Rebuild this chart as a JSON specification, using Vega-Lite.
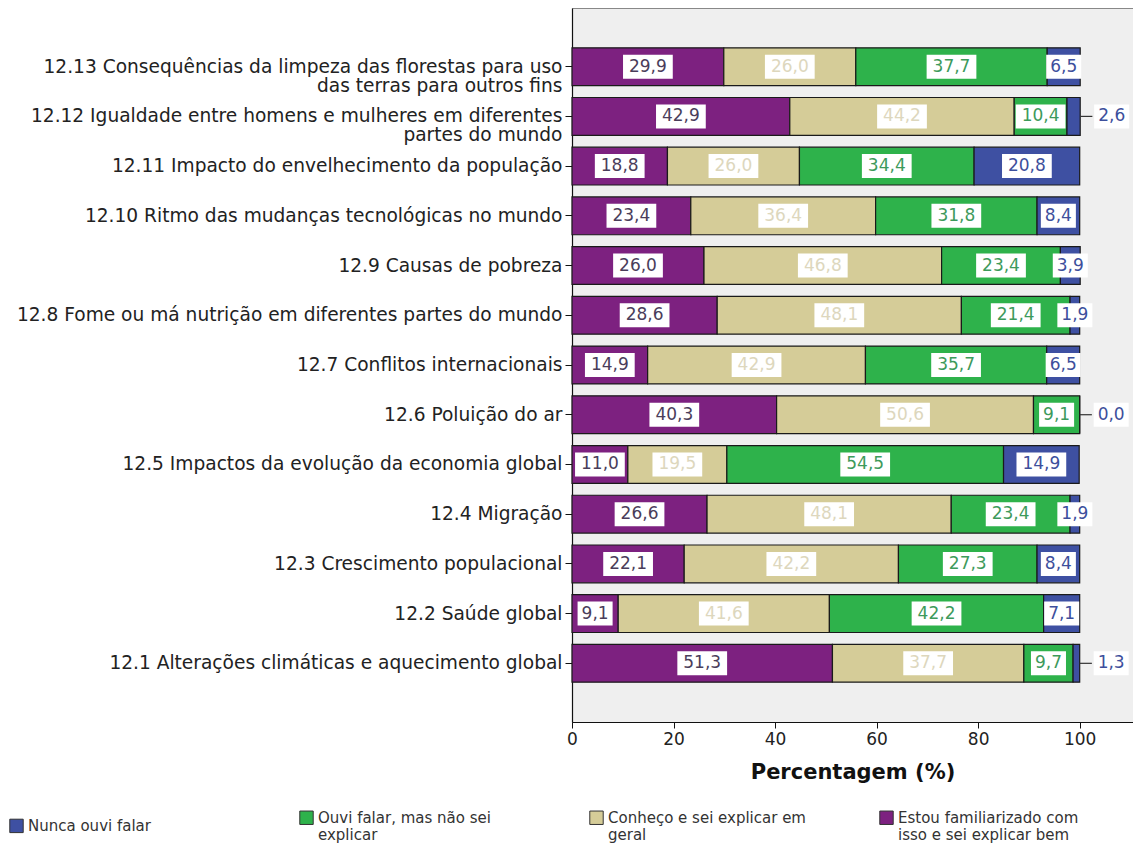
{
  "$schema": "https://vega.github.io/schema/vega-lite/v6.json",
  "autosize": {"type": "none"},
  "padding": {"left": 572, "top": 8, "right": 0, "bottom": 129},
  "width": 561,
  "height": 714,
  "background": "#ffffff",
  "config": {
    "font": "DejaVu Sans",
    "view": {"fill": "#efefef", "stroke": "#888888", "strokeWidth": 1}
  },
  "data": {
    "values": [
      {"cat": "12.13 Consequências da limpeza das florestas para uso|das terras para outros fins", "resp": "Estou familiarizado com isso e sei explicar bem", "v": 29.9},
      {"cat": "12.13 Consequências da limpeza das florestas para uso|das terras para outros fins", "resp": "Conheço e sei explicar em geral", "v": 26.0},
      {"cat": "12.13 Consequências da limpeza das florestas para uso|das terras para outros fins", "resp": "Ouvi falar, mas não sei explicar", "v": 37.7},
      {"cat": "12.13 Consequências da limpeza das florestas para uso|das terras para outros fins", "resp": "Nunca ouvi falar", "v": 6.5},
      {"cat": "12.12 Igualdade entre homens e mulheres em diferentes|partes do mundo", "resp": "Estou familiarizado com isso e sei explicar bem", "v": 42.9},
      {"cat": "12.12 Igualdade entre homens e mulheres em diferentes|partes do mundo", "resp": "Conheço e sei explicar em geral", "v": 44.2},
      {"cat": "12.12 Igualdade entre homens e mulheres em diferentes|partes do mundo", "resp": "Ouvi falar, mas não sei explicar", "v": 10.4},
      {"cat": "12.12 Igualdade entre homens e mulheres em diferentes|partes do mundo", "resp": "Nunca ouvi falar", "v": 2.6},
      {"cat": "12.11 Impacto do envelhecimento da população", "resp": "Estou familiarizado com isso e sei explicar bem", "v": 18.8},
      {"cat": "12.11 Impacto do envelhecimento da população", "resp": "Conheço e sei explicar em geral", "v": 26.0},
      {"cat": "12.11 Impacto do envelhecimento da população", "resp": "Ouvi falar, mas não sei explicar", "v": 34.4},
      {"cat": "12.11 Impacto do envelhecimento da população", "resp": "Nunca ouvi falar", "v": 20.8},
      {"cat": "12.10 Ritmo das mudanças tecnológicas no mundo", "resp": "Estou familiarizado com isso e sei explicar bem", "v": 23.4},
      {"cat": "12.10 Ritmo das mudanças tecnológicas no mundo", "resp": "Conheço e sei explicar em geral", "v": 36.4},
      {"cat": "12.10 Ritmo das mudanças tecnológicas no mundo", "resp": "Ouvi falar, mas não sei explicar", "v": 31.8},
      {"cat": "12.10 Ritmo das mudanças tecnológicas no mundo", "resp": "Nunca ouvi falar", "v": 8.4},
      {"cat": "12.9 Causas de pobreza", "resp": "Estou familiarizado com isso e sei explicar bem", "v": 26.0},
      {"cat": "12.9 Causas de pobreza", "resp": "Conheço e sei explicar em geral", "v": 46.8},
      {"cat": "12.9 Causas de pobreza", "resp": "Ouvi falar, mas não sei explicar", "v": 23.4},
      {"cat": "12.9 Causas de pobreza", "resp": "Nunca ouvi falar", "v": 3.9},
      {"cat": "12.8 Fome ou má nutrição em diferentes partes do mundo", "resp": "Estou familiarizado com isso e sei explicar bem", "v": 28.6},
      {"cat": "12.8 Fome ou má nutrição em diferentes partes do mundo", "resp": "Conheço e sei explicar em geral", "v": 48.1},
      {"cat": "12.8 Fome ou má nutrição em diferentes partes do mundo", "resp": "Ouvi falar, mas não sei explicar", "v": 21.4},
      {"cat": "12.8 Fome ou má nutrição em diferentes partes do mundo", "resp": "Nunca ouvi falar", "v": 1.9},
      {"cat": "12.7 Conflitos internacionais", "resp": "Estou familiarizado com isso e sei explicar bem", "v": 14.9},
      {"cat": "12.7 Conflitos internacionais", "resp": "Conheço e sei explicar em geral", "v": 42.9},
      {"cat": "12.7 Conflitos internacionais", "resp": "Ouvi falar, mas não sei explicar", "v": 35.7},
      {"cat": "12.7 Conflitos internacionais", "resp": "Nunca ouvi falar", "v": 6.5},
      {"cat": "12.6 Poluição do ar", "resp": "Estou familiarizado com isso e sei explicar bem", "v": 40.3},
      {"cat": "12.6 Poluição do ar", "resp": "Conheço e sei explicar em geral", "v": 50.6},
      {"cat": "12.6 Poluição do ar", "resp": "Ouvi falar, mas não sei explicar", "v": 9.1},
      {"cat": "12.6 Poluição do ar", "resp": "Nunca ouvi falar", "v": 0.0},
      {"cat": "12.5 Impactos da evolução da economia global", "resp": "Estou familiarizado com isso e sei explicar bem", "v": 11.0},
      {"cat": "12.5 Impactos da evolução da economia global", "resp": "Conheço e sei explicar em geral", "v": 19.5},
      {"cat": "12.5 Impactos da evolução da economia global", "resp": "Ouvi falar, mas não sei explicar", "v": 54.5},
      {"cat": "12.5 Impactos da evolução da economia global", "resp": "Nunca ouvi falar", "v": 14.9},
      {"cat": "12.4 Migração", "resp": "Estou familiarizado com isso e sei explicar bem", "v": 26.6},
      {"cat": "12.4 Migração", "resp": "Conheço e sei explicar em geral", "v": 48.1},
      {"cat": "12.4 Migração", "resp": "Ouvi falar, mas não sei explicar", "v": 23.4},
      {"cat": "12.4 Migração", "resp": "Nunca ouvi falar", "v": 1.9},
      {"cat": "12.3 Crescimento populacional", "resp": "Estou familiarizado com isso e sei explicar bem", "v": 22.1},
      {"cat": "12.3 Crescimento populacional", "resp": "Conheço e sei explicar em geral", "v": 42.2},
      {"cat": "12.3 Crescimento populacional", "resp": "Ouvi falar, mas não sei explicar", "v": 27.3},
      {"cat": "12.3 Crescimento populacional", "resp": "Nunca ouvi falar", "v": 8.4},
      {"cat": "12.2 Saúde global", "resp": "Estou familiarizado com isso e sei explicar bem", "v": 9.1},
      {"cat": "12.2 Saúde global", "resp": "Conheço e sei explicar em geral", "v": 41.6},
      {"cat": "12.2 Saúde global", "resp": "Ouvi falar, mas não sei explicar", "v": 42.2},
      {"cat": "12.2 Saúde global", "resp": "Nunca ouvi falar", "v": 7.1},
      {"cat": "12.1 Alterações climáticas e aquecimento global", "resp": "Estou familiarizado com isso e sei explicar bem", "v": 51.3},
      {"cat": "12.1 Alterações climáticas e aquecimento global", "resp": "Conheço e sei explicar em geral", "v": 37.7},
      {"cat": "12.1 Alterações climáticas e aquecimento global", "resp": "Ouvi falar, mas não sei explicar", "v": 9.7},
      {"cat": "12.1 Alterações climáticas e aquecimento global", "resp": "Nunca ouvi falar", "v": 1.3}
    ]
  },
  "transform": [
    {"calculate": "indexof(['Estou familiarizado com isso e sei explicar bem','Conheço e sei explicar em geral','Ouvi falar, mas não sei explicar','Nunca ouvi falar'], datum.resp)", "as": "o"},
    {"stack": "v", "groupby": ["cat"], "sort": [{"field": "o", "order": "ascending"}], "as": ["x0", "x1"]},
    {"calculate": "(datum.x0 + datum.x1) / 2", "as": "mid"},
    {"calculate": "replace(format(datum.v, '.1f'), '.', ',')", "as": "lab"},
    {"calculate": "length(datum.lab) > 3 ? 4.9 : 3.45", "as": "hw"},
    {"calculate": "datum.mid + datum.hw", "as": "right"},
    {"calculate": "datum.mid - datum.hw", "as": "left"},
    {"window": [{"op": "lag", "field": "right", "as": "prevRight"}], "groupby": ["cat"], "sort": [{"field": "o", "order": "ascending"}]},
    {"calculate": "datum.o == 3 && datum.prevRight != null && datum.left < datum.prevRight", "as": "out"},
    {"calculate": "datum.out ? datum.x1 + 6.2 : datum.mid", "as": "lx"},
    {"calculate": "datum.lx - datum.hw", "as": "bl"},
    {"calculate": "datum.lx + datum.hw", "as": "br"},
    {"calculate": "datum.x1 + 2.4", "as": "lend"}
  ],
  "encoding": {
    "y": {
      "field": "cat",
      "type": "nominal",
      "sort": null,
      "scale": {"paddingInner": 0.24, "paddingOuter": 0.8},
      "axis": {
        "title": null,
        "labelExpr": "split(datum.label, '|')",
        "labelFontSize": 18.6,
        "labelColor": "#222222",
        "labelLimit": 600,
        "labelPadding": 3,
        "labelLineHeight": 19,
        "tickSize": 7,
        "tickColor": "#111111",
        "domainColor": "#111111",
        "domainWidth": 1.2
      }
    }
  },
  "layer": [
    {
      "mark": {"type": "bar", "stroke": "#1a1a1a", "strokeWidth": 1.2},
      "encoding": {
        "x": {
          "field": "x0",
          "type": "quantitative",
          "scale": {"domain": [0, 110.5], "nice": false, "zero": true},
          "axis": {
            "values": [0, 20, 40, 60, 80, 100],
            "grid": false,
            "title": "Percentagem (%)",
            "titleFontSize": 21,
            "titleFontWeight": "bold",
            "titleColor": "#111111",
            "titlePadding": 14,
            "labelFontSize": 17,
            "labelColor": "#222222",
            "labelFlush": false,
            "tickSize": 6,
            "tickColor": "#111111",
            "domainColor": "#111111",
            "domainWidth": 1.2,
            "labelPadding": 3
          }
        },
        "x2": {"field": "x1"},
        "color": {
          "field": "resp",
          "type": "nominal",
          "scale": {
            "domain": ["Nunca ouvi falar", "Ouvi falar, mas não sei explicar", "Conheço e sei explicar em geral", "Estou familiarizado com isso e sei explicar bem"],
            "range": ["#3e50a2", "#2eb24b", "#d5cc98", "#7d2180"]
          },
          "legend": {
            "title": null,
            "orient": "none",
            "legendX": -563,
            "legendY": 802,
            "direction": "horizontal",
            "columns": 4,
            "gridAlign": "all",
            "columnPadding": 71,
            "symbolType": "square",
            "symbolSize": 180,
            "symbolStrokeColor": "#333333",
            "symbolStrokeWidth": 1,
            "labelFontSize": 15,
            "labelColor": "#333333",
            "labelLimit": 300,
            "labelLineHeight": 15,
            "labelExpr": "datum.label == 'Ouvi falar, mas não sei explicar' ? ['Ouvi falar, mas não sei', 'explicar'] : datum.label == 'Conheço e sei explicar em geral' ? ['Conheço e sei explicar em', 'geral'] : datum.label == 'Estou familiarizado com isso e sei explicar bem' ? ['Estou familiarizado com', 'isso e sei explicar bem'] : datum.label"
          }
        }
      }
    },
    {
      "transform": [{"filter": "datum.out"}],
      "mark": {"type": "rule", "color": "#333333", "strokeWidth": 1.2},
      "encoding": {
        "x": {"field": "x1", "type": "quantitative"},
        "x2": {"field": "lend"}
      }
    },
    {
      "mark": {"type": "bar", "height": 24, "fill": "#ffffff", "stroke": null},
      "encoding": {
        "x": {"field": "bl", "type": "quantitative"},
        "x2": {"field": "br"}
      }
    },
    {
      "mark": {"type": "text", "fontSize": 17, "align": "center", "baseline": "middle"},
      "encoding": {
        "x": {"field": "lx", "type": "quantitative"},
        "text": {"field": "lab"},
        "color": {
          "condition": [
            {"test": "datum.o == 0", "value": "#4a3d5a"},
            {"test": "datum.o == 1", "value": "#ddd7bd"},
            {"test": "datum.o == 2", "value": "#3d9a5b"}
          ],
          "value": "#3d4f9c"
        }
      }
    }
  ]
}
